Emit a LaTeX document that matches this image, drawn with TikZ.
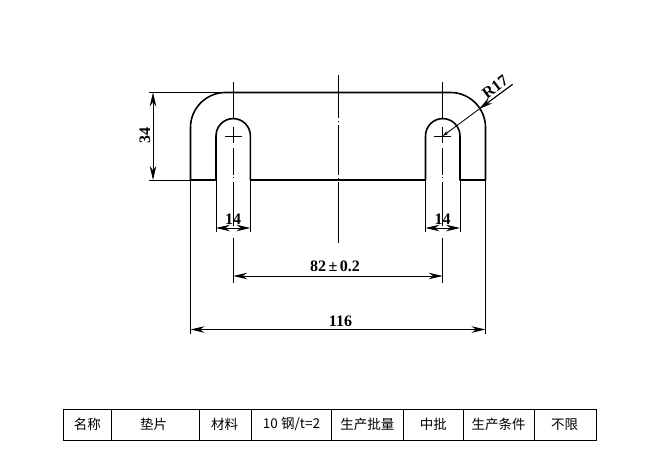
\documentclass[tikz,border=0pt]{standalone}
\usepackage{fontspec}
\setmainfont{Liberation Serif}
\newfontfamily\cjk{Noto Sans CJK SC}
\usetikzlibrary{arrows.meta}
\tikzset{
  outline/.style={line width=1.6pt,line join=round},
  thinline/.style={line width=0.85pt},
  dimline/.style={line width=0.85pt,{Stealth[length=14pt,width=6.5pt]}-{Stealth[length=14pt,width=6.5pt]}},
  dimtext/.style={inner sep=0pt,font=\fontsize{16}{18}\selectfont\bfseries},
  cell/.style={inner sep=0pt,font=\cjk\fontsize{13.5}{15}\selectfont},
  cellrule/.style={line width=1.1pt}
}
\begin{document}
\begin{tikzpicture}[x=1pt,y=-1pt]
\useasboundingbox (0,0) rectangle (666,463);
\fill[white] (0,0) rectangle (666,463);
% key points
\coordinate (cL) at (233.3,136);
\coordinate (cR) at (442.7,136);
% extension lines
\draw[thinline] (149,92.5) -- (226,92.5);
\draw[thinline] (149,180) -- (190.5,180);
\draw[thinline] (190.5,180) -- (190.5,334);
\draw[thinline] (485.5,180) -- (485.5,334);
\draw[thinline] (216,180) -- (216,232);
\draw[thinline] (250.4,180) -- (250.4,232);
\draw[thinline] (425.5,180) -- (425.5,232);
\draw[thinline] (460,180) -- (460,232);
% centre lines
\draw[thinline] (233.3,82) -- (233.3,118.5);
\draw[thinline] (442.7,82) -- (442.7,118.5);
\draw[thinline] (225,136) -- (242,136);
\draw[thinline] (233.3,127) -- (233.3,143);
\draw[thinline] (434,136) -- (451,136);
\draw[thinline] (442.7,127) -- (442.7,143);
\draw[thinline] (233.3,148) -- (233.3,175) (233.3,177) -- (233.3,178) (233.3,182) -- (233.3,226);
\draw[thinline] (442.7,148) -- (442.7,175) (442.7,177) -- (442.7,178) (442.7,182) -- (442.7,226);
\draw[thinline] (233.3,238) -- (233.3,283);
\draw[thinline] (442.7,238) -- (442.7,283);
\draw[thinline] (338,75) -- (338,118) (338,121) -- (338,122) (338,125) -- (338,175) (338,178) -- (338,179) (338,182) -- (338,243);
% outline
\draw[outline] (190.5,180) -- (190.5,127.5)
  .. controls (190.5,108.2) and (206.2,92.5) .. (225.5,92.5)
  -- (450.5,92.5)
  .. controls (469.8,92.5) and (485.5,108.2) .. (485.5,127.5)
  -- (485.5,180) -- (460,180) -- (460,136)
  .. controls (460,126.4) and (452.3,118.6) .. (442.7,118.6)
  .. controls (433.1,118.6) and (425.5,126.4) .. (425.5,136)
  -- (425.5,180) -- (250.4,180) -- (250.4,136)
  .. controls (250.4,126.4) and (242.8,118.6) .. (233.2,118.6)
  .. controls (223.6,118.6) and (216,126.4) .. (216,136)
  -- (216,180) -- cycle;
% dimensions
\coordinate (d34a) at (153,92.5);
\coordinate (d34b) at (153,180);
\draw[dimline] (d34a) -- (d34b);
\node[dimtext,rotate=90] (t34) at (145,135.5) {34};
\coordinate (d14a) at (216,228);
\coordinate (d14b) at (250.4,228);
\draw[dimline] (d14a) -- (d14b);
\node[dimtext] (t14a) at (233,219) {14};
\coordinate (d14c) at (425.5,228);
\coordinate (d14d) at (460,228);
\draw[dimline] (d14c) -- (d14d);
\node[dimtext] (t14b) at (442.5,219) {14};
\coordinate (d82a) at (233.3,276);
\coordinate (d82b) at (442.7,276);
\draw[dimline] (d82a) -- (d82b);
\node[dimtext] (t82) at (335,266) {82\kern2.5pt±\kern2.5pt0.2};
\coordinate (d116a) at (190.5,329.5);
\coordinate (d116b) at (485.5,329.5);
\draw[dimline] (d116a) -- (d116b);
\node[dimtext] (t116) at (340.5,321) {116};
% radius leader
\coordinate (rEnd) at (512.7,84.3);
\coordinate (rTip) at (479,109);
\draw[thinline,-{Stealth[length=6pt,width=3.5pt]}] (rEnd) -- (cR);
\draw[thinline,-{Stealth[length=14pt,width=6.5pt]}] (rEnd) -- (rTip);
\node[dimtext,rotate=37] (tR) at (495,87) {R17};
% table
\draw[cellrule] (63.3,409.3) rectangle (596.7,440.3);
\foreach \x in {111.3,199.3,251.7,331.7,403.3,463.3,534.3}
  \draw[cellrule] (\x,409.3) -- (\x,440.3);
\node[cell] (c1) at (87.3,424.5) {名称};
\node[cell] (c2) at (153.7,424.5) {垫片};
\node[cell] (c3) at (224.7,424.5) {材料};
\node[cell] (c4) at (291.5,424.5) {10 钢/t=2};
\node[cell] (c5) at (367.3,424.5) {生产批量};
\node[cell] (c6) at (433.3,424.5) {中批};
\node[cell] (c7) at (498.7,424.5) {生产条件};
\node[cell] (c8) at (564.7,424.5) {不限};
\end{tikzpicture}
\end{document}
